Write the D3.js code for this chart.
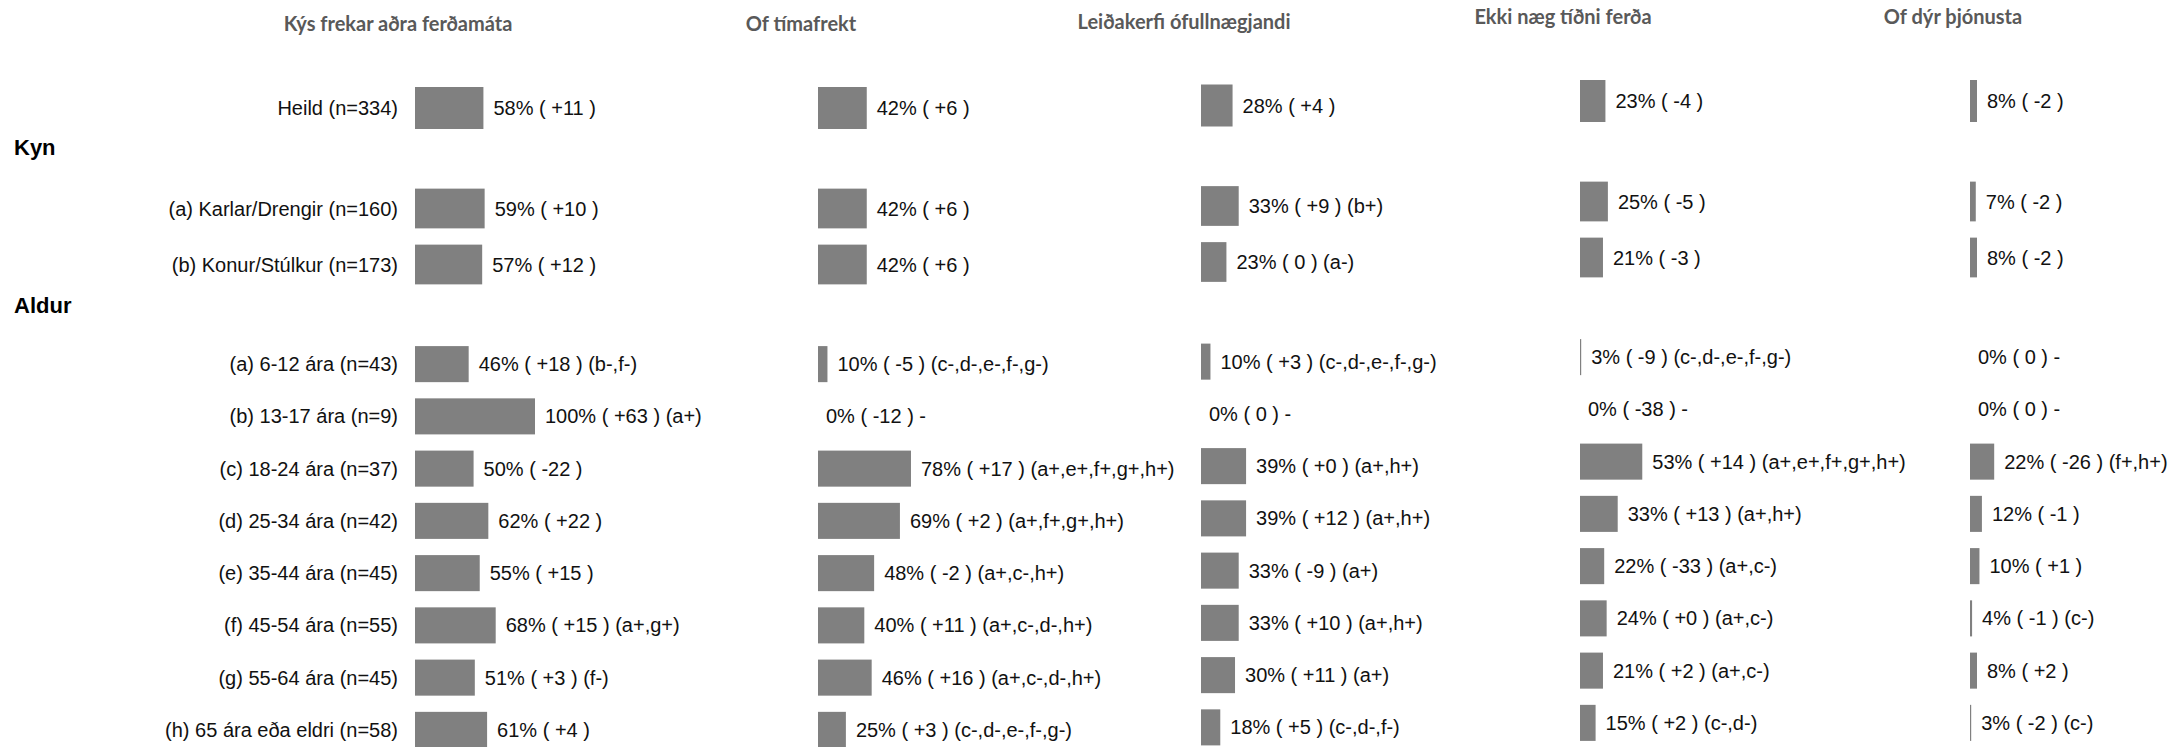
<!DOCTYPE html>
<html lang="is">
  <head>
    <meta charset="utf-8">
    <title>Ástæður</title>
    <script src="https://d3js.org/d3.v7.min.js"></script>
    <style media="screen">
      body { margin: 0; background: #fff; }
      svg { display: block; }
    </style>
  </head>
  <body>
    <div id="chart"></div>
    <script type="text/javascript">
      // column titles
      let columns = ["Kýs frekar aðra ferðamáta", "Of tímafrekt", "Leiðakerfi ófullnægjandi",
                     "Ekki næg tíðni ferða", "Of dýr þjónusta"];

      // rows
      let rowLabels = ["Heild (n=334)",
                       "(a) Karlar/Drengir (n=160)", "(b) Konur/Stúlkur (n=173)",
                       "(a) 6-12 ára (n=43)", "(b) 13-17 ára (n=9)", "(c) 18-24 ára (n=37)",
                       "(d) 25-34 ára (n=42)", "(e) 35-44 ára (n=45)", "(f) 45-54 ára (n=55)",
                       "(g) 55-64 ára (n=45)", "(h) 65 ára eða eldri (n=58)"];
      let rowGroups = ["Heild", "Kyn", "Kyn", "Aldur", "Aldur", "Aldur", "Aldur",
                       "Aldur", "Aldur", "Aldur", "Aldur"];
      let groupTitles = ["Kyn", "Aldur"];

      // % per column
      let pctKys   = [58, 59, 57, 46, 100, 50, 62, 55, 68, 51, 61];
      let pctTimi  = [42, 42, 42, 10, 0, 78, 69, 48, 40, 46, 25];
      let pctLeid  = [28, 33, 23, 10, 0, 39, 39, 33, 33, 30, 18];
      let pctTidni = [23, 25, 21, 3, 0, 53, 33, 22, 24, 21, 15];
      let pctDyr   = [8, 7, 8, 0, 0, 22, 12, 10, 4, 8, 3];

      // change (as printed)
      let chgKys   = ["+11", "+10", "+12", "+18", "+63", "-22", "+22", "+15", "+15", "+3", "+4"];
      let chgTimi  = ["+6", "+6", "+6", "-5", "-12", "+17", "+2", "-2", "+11", "+16", "+3"];
      let chgLeid  = ["+4", "+9", "0", "+3", "0", "+0", "+12", "-9", "+10", "+11", "+5"];
      let chgTidni = ["-4", "-5", "-3", "-9", "-38", "+14", "+13", "-33", "+0", "+2", "+2"];
      let chgDyr   = ["-2", "-2", "-2", "0", "0", "-26", "-1", "+1", "-1", "+2", "-2"];

      // significance marks
      let sigKys   = ["", "", "", "b-,f-", "a+", "", "", "", "a+,g+", "f-", ""];
      let sigTimi  = ["", "", "", "c-,d-,e-,f-,g-", "-", "a+,e+,f+,g+,h+", "a+,f+,g+,h+",
                      "a+,c-,h+", "a+,c-,d-,h+", "a+,c-,d-,h+", "c-,d-,e-,f-,g-"];
      let sigLeid  = ["", "b+", "a-", "c-,d-,e-,f-,g-", "-", "a+,h+", "a+,h+", "a+",
                      "a+,h+", "a+", "c-,d-,f-"];
      let sigTidni = ["", "", "", "c-,d-,e-,f-,g-", "-", "a+,e+,f+,g+,h+", "a+,h+",
                      "a+,c-", "a+,c-", "a+,c-", "c-,d-"];
      let sigDyr   = ["", "", "", "-", "-", "f+,h+", "", "", "c-", "", "c-"];

      let pcts = [pctKys, pctTimi, pctLeid, pctTidni, pctDyr];
      let chgs = [chgKys, chgTimi, chgLeid, chgTidni, chgDyr];
      let sigs = [sigKys, sigTimi, sigLeid, sigTidni, sigDyr];

      // layout
      let w = 2180;
      let h = 747;
      let colX = [415, 818, 1201, 1580, 1970];   // bar baseline of each column
      let colDy = [0, 0, -2.5, -7, -7];          // small vertical shift per column
      let groupRange = { Heild: [80, 136], Kyn: [180.5, 292.5], Aldur: [338, 756] };
      let groupPad = { Heild: 0.25, Kyn: 0.29, Aldur: 0.31 };

      let svg = d3.select("#chart")
                  .append("svg")
                  .attr("width", w)
                  .attr("height", h);

      // one band scale per row group
      let yScales = {};
      Object.keys(groupRange).forEach(function(g) {
        let ids = rowLabels.map((d, i) => i).filter(i => rowGroups[i] === g);
        yScales[g] = d3.scaleBand()
                       .domain(ids)
                       .range(groupRange[g])
                       .paddingInner(groupPad[g])
                       .paddingOuter(groupPad[g] / 2);
      });
      function yTop(i) { return yScales[rowGroups[i]](i); }
      function yMid(i) { return yTop(i) + yScales[rowGroups[i]].bandwidth() / 2; }
      function bh(i) { return yScales[rowGroups[i]].bandwidth(); }

      let x = d3.scaleLinear().domain([2.3, 100]).range([0, 120]);
      function barW(v) { return v > 0 ? Math.max(1.2, x(v)) : 0; }

      // row labels
      svg.append("g")
         .selectAll("text")
         .data(rowLabels)
         .enter()
         .append("text")
         .attr("x", colX[0] - 17)
         .attr("y", (d, i) => yMid(i))
         .attr("dy", "0.35em")
         .attr("text-anchor", "end")
         .attr("font-family", "'Liberation Sans', Arial, sans-serif")
         .attr("font-size", "20px")
         .attr("fill", "#111")
         .text(d => d);

      // group headings
      svg.append("g")
         .selectAll("text")
         .data(groupTitles)
         .enter()
         .append("text")
         .attr("x", 14)
         .attr("y", d => groupRange[d][0] - 33)
         .attr("dy", "0.35em")
         .attr("font-family", "'Liberation Sans', Arial, sans-serif")
         .attr("font-weight", "bold")
         .attr("font-size", "22px")
         .attr("fill", "#000")
         .text(d => d);

      // each column
      columns.forEach(function(title, c) {
        let g = svg.append("g")
                   .attr("transform", "translate(" + colX[c] + "," + colDy[c] + ")");

        g.append("text")
         .attr("x", -17)
         .attr("y", 24)
         .attr("dy", "0.35em")
         .attr("text-anchor", "middle")
         .attr("font-family", "Lato, 'Open Sans', sans-serif")
         .attr("font-weight", "bold")
         .attr("font-size", "20px")
         .attr("fill", "#595959")
         .text(title);

        let rows = pcts[c].map(function(v, i) {
          return { i: i, v: v, chg: chgs[c][i], sig: sigs[c][i] };
        });

        g.selectAll("rect")
         .data(rows.filter(d => d.v > 0))
         .enter()
         .append("rect")
         .attr("x", 0)
         .attr("y", d => yTop(d.i))
         .attr("width", d => barW(d.v))
         .attr("height", d => bh(d.i))
         .attr("fill", "#808080");

        g.selectAll("text.val")
         .data(rows)
         .enter()
         .append("text")
         .attr("class", "val")
         .attr("x", d => barW(d.v) + (d.v > 0 ? 10 : 8))
         .attr("y", d => yMid(d.i))
         .attr("dy", "0.35em")
         .attr("font-family", "'Liberation Sans', Arial, sans-serif")
         .attr("font-size", "20px")
         .attr("fill", "#111")
         .text(function(d) {
           let s = d.v + "% ( " + d.chg + " )";
           if (d.sig === "-") s += " -";
           else if (d.sig) s += " (" + d.sig + ")";
           return s;
         });
      });
    </script>
  </body>
</html>
